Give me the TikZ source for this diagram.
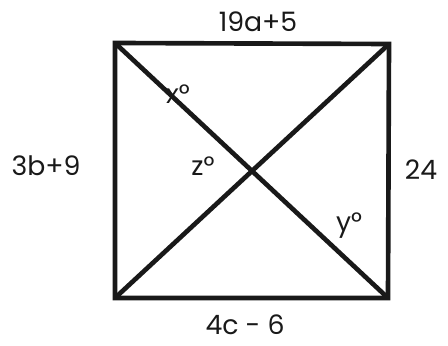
\documentclass[tikz,border=0pt]{standalone}
\usepackage{fontspec}
\setmainfont{Poppins}
\usetikzlibrary{positioning}
\tikzstyle{edge} = [
    line width=3.3pt,
    draw=black!90,
    line join=miter
]
\tikzstyle{sidelabel} = [
    font=\fontsize{19}{22}\selectfont,
    text=black!90,
    inner sep=0pt
]
\tikzstyle{anglelabel} = [
    font=\fontsize{19}{22}\selectfont,
    text=black!90,
    inner sep=0pt
]

\begin{document}
\begin{tikzpicture}[x=0.025cm, y=-0.025cm]

\useasboundingbox (0,0) rectangle (448,346);

\coordinate (tl) at (115,43);
\coordinate (tr) at (389,44);
\coordinate (br) at (388,298);
\coordinate (bl) at (115,298);

\draw [edge] (tl) -- (tr) -- (br) -- (bl) -- cycle;
\draw [edge] (tl) -- (br);
\draw [edge] (tr) -- (bl);

\node (top) [sidelabel] at (258,22) {19a+5};
\node (left) [sidelabel] at (46,166) {3b+9};
\node (right) [sidelabel] at (421,170) {24};
\node (bottom) [sidelabel] at (245,325) {4c - 6};

\node (x) [anglelabel] at (178,94) {x°};
\node (z) [anglelabel] at (203,166) {z°};
\node (y) [anglelabel] at (349,226) {y°};

\end{tikzpicture}
\end{document}
